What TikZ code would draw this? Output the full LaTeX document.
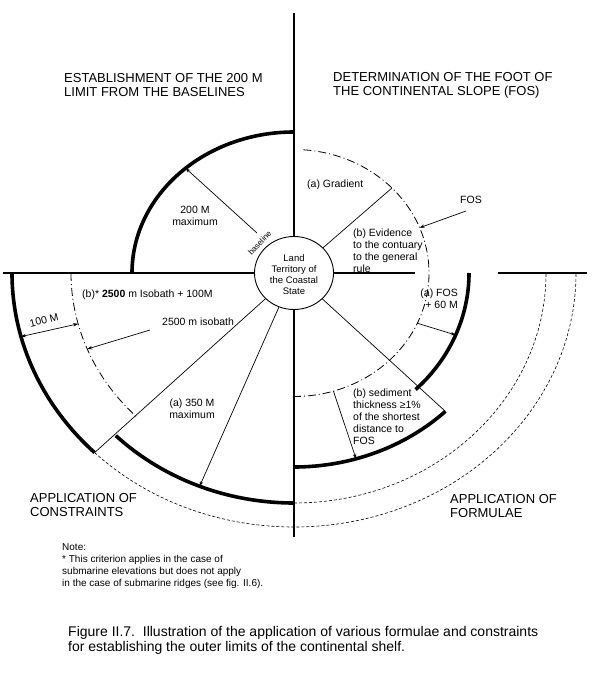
\documentclass[tikz,border=0pt]{standalone}
\usepackage{fontspec}
\setmainfont{Liberation Sans}
\usetikzlibrary{arrows.meta,shapes.geometric}
\begin{document}
\begin{tikzpicture}[x=1pt,y=1pt,
  axis/.style={line width=1.8pt},
  heavy/.style={line width=3.6pt},
  thinline/.style={line width=0.7pt},
  dashdot/.style={line width=0.8pt, dash pattern=on 8pt off 3pt on 1pt off 3pt},
  dashthin/.style={line width=0.6pt, dash pattern=on 3pt off 2pt},
  arr/.style={thinline,-{Stealth[length=5pt,width=3.5pt]}},
  darr/.style={thinline,{Stealth[length=5pt,width=3.5pt]}-{Stealth[length=5pt,width=3.5pt]}},
  head/.style={font=\fontsize{13}{14}\selectfont, align=left, anchor=west, inner sep=0},
  lab/.style={font=\fontsize{10.5}{12}\selectfont, align=left, inner sep=0},
]
\useasboundingbox (0,0) rectangle (610,-677);
\fill[white] (0,0) rectangle (610,-677);

\coordinate (C) at (294,-273);
\node[draw, ellipse, line width=0.9pt, minimum width=79pt, minimum height=73pt, inner sep=0pt] (land) at (294,-273) {};
\node[font=\fontsize{9.5}{11}\selectfont, align=center, inner sep=0pt] (landtext) at (294,-275)
  {Land\\Territory of\\the Coastal\\State};
\node[font=\fontsize{8}{8}\selectfont, inner sep=0pt, rotate=47] (basel) at ([shift={(137:47pt and 44pt)}]C) {baseline};

% axes
\coordinate (vtop) at (294,-13);
\coordinate (vbot) at (294,-537);
\coordinate (hleft) at (3,-273);
\coordinate (hr1) at (415,-273);
\coordinate (hr2) at (498,-273);
\coordinate (hr3) at (587,-273);
\draw[axis] (vtop) -- (land);
\draw[axis] (land) -- (vbot);
\draw[axis] (hleft) -- (land);
\draw[axis] (land) -- (hr1);
\draw[axis] (hr2) -- (hr3);

% upper left: 200 M limit
\draw[heavy] ([shift={(180:162pt and 141pt)}]C) arc[start angle=180, end angle=90, x radius=162pt, y radius=141pt];
\coordinate (b200) at (257,-233);
\coordinate (t200) at ([shift={(132:162pt and 141pt)}]C);
\draw[arr] (b200) -- (t200);
\node[lab, align=center] (l200) at (195,-216) {200 M\\maximum};

% upper right: FOS
\draw[dashdot] ([shift={(86:135pt and 123.5pt)}]C) arc[start angle=86, end angle=-90, x radius=135pt, y radius=123.5pt];
\coordinate (grad) at ([shift={(43.5:135pt and 123.5pt)}]C);
\draw[thinline] (land) -- (grad);
\node[lab, anchor=west] (lgrad) at (307,-185) {(a) Gradient};
\node[lab, anchor=west] (levid) at (353,-251) {(b) Evidence\\to the contuary\\to the general\\rule};
\node[lab] (lfos) at (471,-200) {FOS};
\coordinate (fosA) at (466,-211);
\coordinate (fosB) at ([shift={(21.5:135pt and 123.5pt)}]C);
\draw[arr] (fosA) -- (fosB);

% lower right: formulae
\draw[heavy] ([shift={(0:175pt and 162pt)}]C) arc[start angle=0, end angle=-46, x radius=175pt, y radius=162pt];
\node[lab, align=right, anchor=east] (l60) at (458,-299) {(a) FOS\\+ 60 M};
\coordinate (s60) at ([shift={(-24:135pt and 123.5pt)}]C);
\coordinate (e60) at ([shift={(-22.5:175pt and 162pt)}]C);
\draw[arr] (s60) -- (e60);
\draw[heavy] ([shift={(270:216pt and 194pt)}]C) arc[start angle=270, end angle=314.5, x radius=216pt, y radius=194pt];
\coordinate (sedend) at ([shift={(-45.5:216pt and 194pt)}]C);
\draw[thinline] (land) -- (sedend);
\coordinate (ssed) at ([shift={(-73:135pt and 123.5pt)}]C);
\coordinate (esed) at ([shift={(-73.3:216pt and 194pt)}]C);
\draw[arr] (ssed) -- (esed);
\node[lab, anchor=west] (lsed) at (353,-416.5) {(b) sediment\\thickness ≥1\%\\of the shortest\\distance to\\FOS};

% lower left: constraints
\draw[heavy] ([shift={(180:282pt and 254pt)}]C) arc[start angle=180, end angle=225, x radius=282pt, y radius=254pt];
\draw[dashthin] ([shift={(225:282pt and 254pt)}]C) arc[start angle=225, end angle=360, x radius=282pt, y radius=254pt];
\draw[heavy] ([shift={(225:252pt and 230pt)}]C) arc[start angle=225, end angle=270, x radius=252pt, y radius=230pt];
\draw[dashthin] ([shift={(270:252pt and 230pt)}]C) arc[start angle=270, end angle=360, x radius=252pt, y radius=230pt];
\draw[dashdot] ([shift={(180:223pt and 203pt)}]C) arc[start angle=180, end angle=225, x radius=223pt, y radius=203pt];
\coordinate (ll1) at ([shift={(225:282pt and 254pt)}]C);
\draw[thinline] (land) -- (ll1);
\coordinate (a350) at ([shift={(248:252pt and 230pt)}]C);
\draw[arr] (land) -- (a350);
\node[lab, align=center] (l350) at (192,-409) {(a) 350 M\\maximum};
\coordinate (m100o) at ([shift={(194.5:282pt and 254pt)}]C);
\coordinate (m100i) at ([shift={(194.5:223pt and 203pt)}]C);
\draw[darr] (m100i) -- (m100o);
\node[lab, rotate=14] (l100) at (44,-320) {100 M};
\node[lab, anchor=west] (lb) at (82,-295) {(b)* \textbf{2500} m Isobath + 100M};
\node[lab, anchor=west] (liso) at (162,-322) {2500 m isobath};
\coordinate (isoA) at (150,-330);
\coordinate (isoB) at ([shift={(202:223pt and 203pt)}]C);
\draw[arr] (isoA) -- (isoB);

% headings
\node[head] (h1) at (64,-85) {ESTABLISHMENT OF THE 200 M\\LIMIT FROM THE BASELINES};
\node[head] (h2) at (333,-85) {DETERMINATION OF THE FOOT OF\\THE CONTINENTAL SLOPE (FOS)};
\node[head] (h3) at (30,-505.5) {APPLICATION OF\\CONSTRAINTS};
\node[head] (h4) at (450,-506) {APPLICATION OF\\FORMULAE};

% note and caption
\node[anchor=west, font=\fontsize{10}{12}\selectfont, align=left, inner sep=0] (note) at (62,-566)
  {Note:\\* This criterion applies in the case of\\submarine elevations but does not apply\\in the case of submarine ridges (see fig. II.6).};
\node[anchor=west, font=\fontsize{14}{15}\selectfont, align=left, inner sep=0] (cap) at (68,-640)
  {Figure II.7.\ \ Illustration of the application of various formulae and constraints\\for establishing the outer limits of the continental shelf.};
\end{tikzpicture}
\end{document}
